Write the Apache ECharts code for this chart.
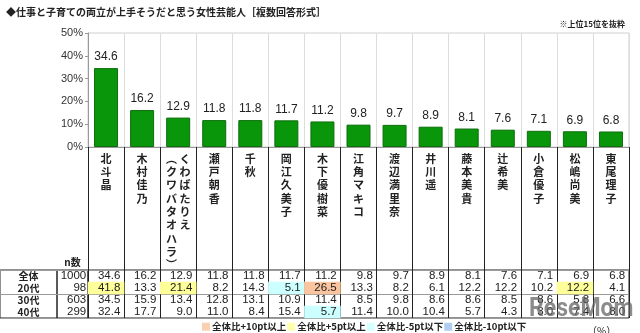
<!DOCTYPE html>
<html>
<head>
<meta charset="utf-8">
<script src="https://cdn.jsdelivr.net/npm/echarts@6/dist/echarts.min.js"></script>
<style>
    html, body { margin: 0; padding: 0; background: #fff; }
    #main { width: 640px; height: 333px; }
</style>
</head>
<body>
<div id="main"></div>
<script>
// 上位15名
var names = ['北斗晶', '木村佳乃', 'くわばたりえ（クワバタオハラ）', '瀬戸朝香', '千秋', '岡江久美子', '木下優樹菜',
    '江角マキコ', '渡辺満里奈', '井川遥', '藤本美貴', '辻希美', '小倉優子', '松嶋尚美', '東尾理子'];
var total = [34.6, 16.2, 12.9, 11.8, 11.8, 11.7, 11.2, 9.8, 9.7, 8.9, 8.1, 7.6, 7.1, 6.9, 6.8];
var age20 = [41.8, 13.3, 21.4, 8.2, 14.3, 5.1, 26.5, 13.3, 8.2, 6.1, 12.2, 12.2, 10.2, 12.2, 4.1];
var age30 = [34.5, 15.9, 13.4, 12.8, 13.1, 10.9, 11.4, 8.5, 9.8, 8.6, 8.6, 8.5, 8.6, 5.8, 6.6];
var age40 = [32.4, 17.7, 9.0, 11.0, 8.4, 15.4, 5.7, 11.4, 10.0, 10.4, 5.7, 4.3, 3.0, 7.4, 8.0];
var rowNames = ['全体', '20代', '30代', '40代'];
var nCounts = [1000, 98, 603, 299];
var yTicks = [0, 50, 10]; // min, max, interval
var legendNames = ['全体比+10pt以上', '全体比+5pt以上', '全体比-5pt以下', '全体比-10pt以下'];
var legendColors = ['#F9C49E', '#FFFF99', '#CCFFFF', '#9CC3EC'];

var rows = [total, age20, age30, age40];
var jp = "'Noto Sans CJK JP', sans-serif";
var num = "'Liberation Sans', Arial, sans-serif";

// 全体との差で色分け
function cellColor(r, c) {
    if (r === 0) return 'rgba(0,0,0,0)';
    var diff = rows[r][c] - total[c];
    if (diff >= 10) return legendColors[0];
    if (diff >= 5) return legendColors[1];
    if (diff <= -10) return legendColors[3];
    if (diff <= -5) return legendColors[2];
    return 'rgba(0,0,0,0)';
}

// 縦書きラベル
function vertical(val) {
    var p = val.indexOf('（');
    if (p < 0) return val.split('').join('\n');
    var main = val.slice(0, p).split('');
    var sub = ('︵' + val.slice(p + 1, val.length - 1) + '︶').split('');
    var lines = [];
    for (var i = 0; i < Math.max(main.length, sub.length); i++) {
        lines.push((sub[i] || '　') + ' ' + (main[i] || '　'));
    }
    return lines.join('\n');
}

var cells = [];
rows.forEach(function (row, r) {
    row.forEach(function (v, c) {
        cells.push({value: [c, r, v], itemStyle: {color: cellColor(r, c)}});
    });
});
var headCells = rowNames.map(function (n, r) { return [0, r, r]; });
var nCells = nCounts.map(function (n, r) { return [0, r, n]; });

var tableY = function (idx) {
    return {
        type: 'category', gridIndex: idx, data: rowNames, inverse: true,
        axisLine: {show: false}, axisTick: {show: false}, axisLabel: {show: false},
        splitLine: {show: true, lineStyle: {color: '#9a9a9a', width: 1}}
    };
};

var option = {
    animation: false,
    backgroundColor: '#fff',
    title: [
        {text: '◆仕事と子育ての両立が上手そうだと思う女性芸能人［複数回答形式］', left: 1, top: 2,
            textStyle: {fontSize: 10, fontWeight: 'bold', color: '#222', fontFamily: jp}},
        {text: '※上位15位を抜粋', right: 10, top: 15,
            textStyle: {fontSize: 8, fontWeight: 'bold', color: '#222', fontFamily: jp}},
        {text: '（%）', left: 582, top: 321,
            textStyle: {fontSize: 10, fontWeight: 'normal', color: '#222', fontFamily: jp}}
    ],
    legend: {
        left: 202, top: 322, itemWidth: 8, itemHeight: 8, itemGap: 1, icon: 'rect',
        padding: 0,
        textStyle: {fontSize: 9.5, fontWeight: 'bold', color: '#222', fontFamily: jp, padding: [0, 0, 0, -3]},
        data: legendNames
    },
    grid: [
        {left: 88, right: 11, top: 33, height: 114, show: true, borderColor: '#cfcfcf', borderWidth: 1},
        {left: 0, width: 57, top: 270, height: 48, show: true, borderColor: '#222', borderWidth: 1},
        {left: 57, width: 31, top: 270, height: 48, show: true, borderColor: '#222', borderWidth: 1},
        {left: 88, right: 11, top: 270, height: 48, show: true, borderColor: '#222', borderWidth: 1}
    ],
    xAxis: [
        {
            type: 'category', gridIndex: 0, data: names,
            axisLine: {lineStyle: {color: '#999'}},
            axisTick: {show: true, length: 123, lineStyle: {color: '#222'}},
            splitLine: {show: true, lineStyle: {color: '#dcdcdc'}},
            axisLabel: {
                interval: 0, margin: 5, formatter: vertical, verticalAlign: 'top',
                fontSize: 11, lineHeight: 13.3, fontWeight: 'bold', color: '#222', fontFamily: jp
            }
        },
        {type: 'category', gridIndex: 1, data: [''], show: false},
        {
            type: 'category', gridIndex: 2, data: ['n数'], position: 'top',
            axisLine: {show: false}, axisTick: {show: false}, splitLine: {show: false},
            axisLabel: {margin: 3, fontSize: 10, fontWeight: 'bold', color: '#222', fontFamily: jp}
        },
        {
            type: 'category', gridIndex: 3, data: names,
            axisLine: {show: false}, axisTick: {show: false}, axisLabel: {show: false},
            splitLine: {show: true, interval: 0, lineStyle: {color: '#222'}}
        }
    ],
    yAxis: [
        {
            type: 'value', gridIndex: 0, min: yTicks[0], max: yTicks[1], interval: yTicks[2],
            axisLine: {show: true, lineStyle: {color: '#999'}},
            axisTick: {show: true, length: 3, lineStyle: {color: '#999'}},
            splitLine: {show: false},
            axisLabel: {formatter: '{value}%', fontSize: 11, color: '#333', margin: 5, fontFamily: num}
        },
        tableY(1), tableY(2), tableY(3)
    ],
    series: [
        {
            name: '全体', type: 'bar', xAxisIndex: 0, yAxisIndex: 0, data: total, barWidth: 24,
            itemStyle: {color: '#0A960A', borderColor: '#0C6E0C', borderWidth: 1},
            label: {show: true, position: 'top', distance: 5, fontSize: 12, color: '#222', fontFamily: num,
                formatter: function (p) { return p.value.toFixed(1); }}
        },
        {
            type: 'heatmap', xAxisIndex: 1, yAxisIndex: 1, data: headCells,
            itemStyle: {color: 'rgba(0,0,0,0)'},
            label: {show: true, fontSize: 10, fontWeight: 'bold', color: '#222', fontFamily: jp,
                formatter: function (p) { return rowNames[p.value[2]]; }}
        },
        {
            type: 'heatmap', xAxisIndex: 2, yAxisIndex: 2, data: nCells,
            itemStyle: {color: 'rgba(0,0,0,0)'},
            label: {show: true, position: 'insideRight', distance: 2, fontSize: 11.5, color: '#222', fontFamily: num,
                formatter: function (p) { return p.value[2]; }}
        },
        {
            type: 'heatmap', xAxisIndex: 3, yAxisIndex: 3, data: cells,
            label: {show: true, position: 'insideRight', distance: 4, fontSize: 11.5, color: '#222', fontFamily: num,
                formatter: function (p) { return p.value[2].toFixed(1); }}
        }
    ].concat(legendNames.map(function (n, i) {
        // 凡例用
        return {name: n, type: 'scatter', xAxisIndex: 0, yAxisIndex: 0, data: [], itemStyle: {color: legendColors[i]}};
    })),
    graphic: [
        {type: 'text', left: 529, top: 297, silent: true, z: 100, scaleX: 0.92,
            style: {text: 'ReseMom', fill: 'rgba(95,95,95,0.72)', font: 'bold 25px Roboto, sans-serif'}}
    ]
};

var myChart = echarts.init(document.getElementById('main'));
myChart.setOption(option);
</script>
</body>
</html>
